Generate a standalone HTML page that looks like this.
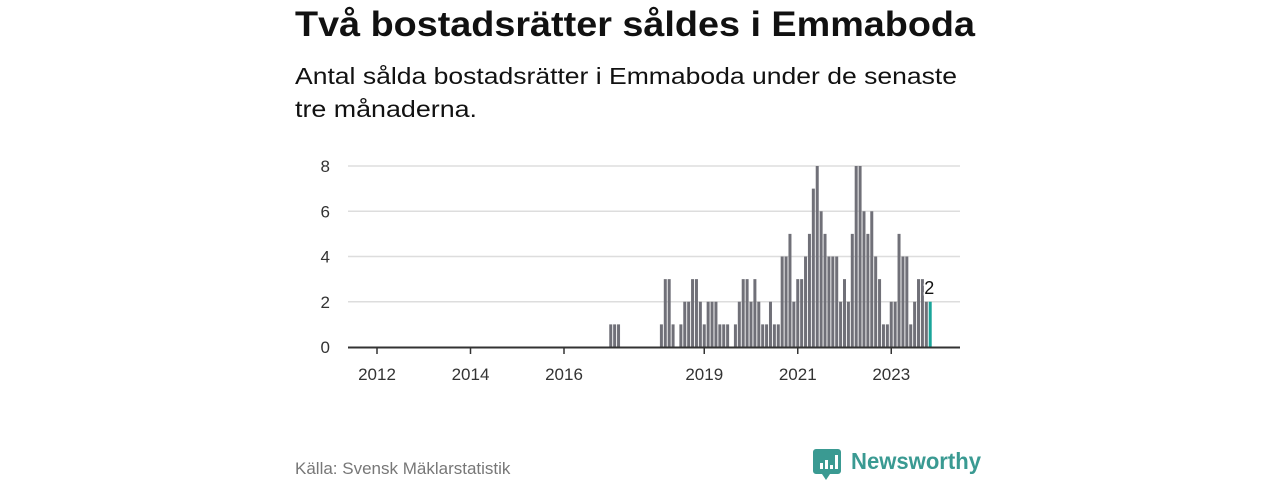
<!DOCTYPE html>
<html><head><meta charset="utf-8"><style>
html,body{margin:0;padding:0;background:#fff;}
svg{display:block;font-family:"Liberation Sans",sans-serif;}
</style></head><body>
<svg id="chart" width="1280" height="480" viewBox="0 0 1280 480" xmlns="http://www.w3.org/2000/svg">
<text x="295" y="36" font-size="35" font-weight="bold" fill="#111" textLength="680" lengthAdjust="spacingAndGlyphs">Två bostadsrätter såldes i Emmaboda</text>
<text x="295" y="84" font-size="23" fill="#111" textLength="662" lengthAdjust="spacingAndGlyphs">Antal sålda bostadsrätter i Emmaboda under de senaste</text>
<text x="295" y="117" font-size="23" fill="#111" textLength="182" lengthAdjust="spacingAndGlyphs">tre månaderna.</text>
<g id="grid"></g><g id="bars"></g><g id="axes"></g>
<text x="295" y="474" font-size="17" fill="#777">Källa: Svensk Mäklarstatistik</text>
<g>
<path d="M816 449 h22 a3 3 0 0 1 3 3 v19 a3 3 0 0 1 -3 3 h-8 l-4 6 l-4 -6 h-6 a3 3 0 0 1 -3 -3 v-19 a3 3 0 0 1 3 -3z" fill="#3a9a92"/>
<rect x="820" y="463" width="3" height="6" fill="#fff"/><rect x="825" y="460" width="3" height="9" fill="#fff"/><rect x="830" y="465" width="3" height="4" fill="#fff"/><rect x="835" y="455" width="3" height="14" fill="#fff"/>
<text x="851" y="469" font-size="23" font-weight="bold" fill="#3a9a92" textLength="130" lengthAdjust="spacingAndGlyphs">Newsworthy</text>
</g>
</svg>
<script>
const startYear = 2017;
const values = [
1,1,1,0,0,0,0,0,0,0,0,0,
0,1,3,3,1,0,1,2,2,3,3,2,
1,2,2,2,1,1,1,0,1,2,3,3,
2,3,2,1,1,2,1,1,4,4,5,2,
3,3,4,5,7,8,6,5,4,4,4,2,
3,2,5,8,8,6,5,6,4,3,1,1,
2,2,5,4,4,1,2,3,3,2,2
];
const yTicks = [0,2,4,6,8];
const xTickYears = [2012,2014,2016,2019,2021,2023];
const NS="http://www.w3.org/2000/svg";
const monthW = 46.75/12;
function xScale(yearFloat){ return 377 + (yearFloat-2012)*46.75; }
function yScale(v){ return 347 - v*22.625; }
function mk(tag, attrs, parent){ const e=document.createElementNS(NS,tag); for(const k in attrs) e.setAttribute(k,attrs[k]); parent.appendChild(e); return e; }
const grid=document.getElementById('grid'), bars=document.getElementById('bars'), axes=document.getElementById('axes');
yTicks.forEach(t=>{
  if(t>0){ const l=mk('line',{x1:348,x2:960,y1:yScale(t),y2:yScale(t),stroke:'#ddd','stroke-width':1.5},grid);
  
   }
  const tx=mk('text',{x:330,y:yScale(t)+6,'font-size':17,fill:'#333','text-anchor':'end'},axes);
  tx.textContent=t;
  
  
});
values.forEach((v,i)=>{
  if(v<=0) return;
  const cx = xScale(startYear + i/12);
  const last = i===values.length-1;
  const r=mk('rect',{x:cx-1.5,y:yScale(v),width:3,height:347-yScale(v),fill:last?'#1aa59a':'#707078'},bars);
  
  
  if(last){ const lb=mk('text',{x:cx-1,y:yScale(v)-8,'font-size':18,fill:'#111','text-anchor':'middle',stroke:'#fff','stroke-width':3,'paint-order':'stroke'},bars);
    lb.textContent=v;
    
     }
});
const ax=mk('line',{x1:348,x2:960,y1:347.5,y2:347.5,stroke:'#333','stroke-width':2},axes);


xTickYears.forEach(yr=>{
  const x=xScale(yr);
  const tk=mk('line',{x1:x,x2:x,y1:348,y2:354,stroke:'#333','stroke-width':1.5},axes);
  
  
  const tx=mk('text',{x:x,y:380,'font-size':17,fill:'#333','text-anchor':'middle'},axes);
  tx.textContent=yr;
  
  
});
</script>
</body></html>
